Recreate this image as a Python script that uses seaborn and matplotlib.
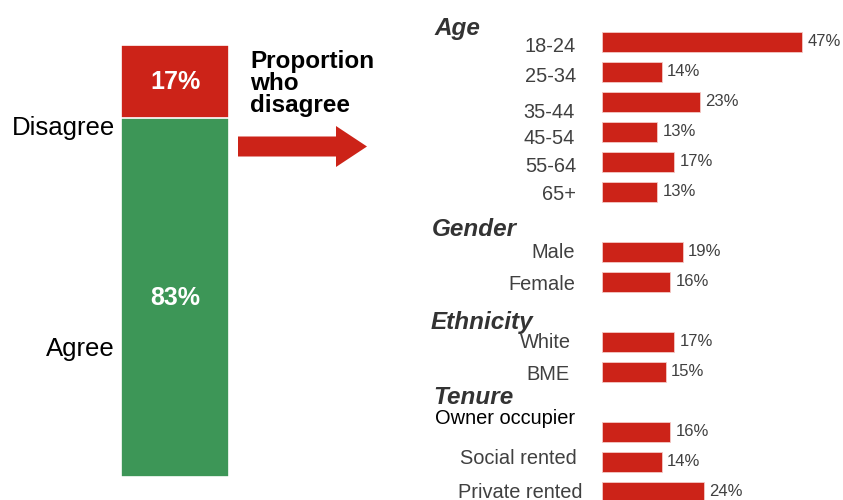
import numpy as np
import pandas as pd
import seaborn as sns
import matplotlib.pyplot as plt
from matplotlib.patches import FancyArrow

# overall split
overall_labels = ['Disagree', 'Agree']
overall_vals = [17, 83]

# proportion who disagree, by group
groups = ['Age', 'Gender', 'Ethnicity', 'Tenure']
age_labels = ['18-24', '25-34', '35-44', '45-54', '55-64', '65+']
age_vals = [47, 14, 23, 13, 17, 13]
gender_labels = ['Male', 'Female']
gender_vals = [19, 16]
ethnicity_labels = ['White', 'BME']
ethnicity_vals = [17, 15]
tenure_labels = ['Owner occupier', 'Social rented', 'Private rented']
tenure_vals = [16, 14, 24]

RED = '#CC2318'
GREEN = '#3D9657'
GREY = '#404040'

sns.set_theme(style='white')
plt.rcParams['font.family'] = ['Liberation Sans', 'DejaVu Sans']

# build rows: one empty row between groups (header sits there)
rows = []
pos = 0
for g, labs, vals in zip(groups,
                         [age_labels, gender_labels, ethnicity_labels, tenure_labels],
                         [age_vals, gender_vals, ethnicity_vals, tenure_vals]):
    for lab, v in zip(labs, vals):
        rows.append({'group': g, 'label': lab, 'value': v, 'row': pos})
        pos += 1
    pos += 1
df = pd.DataFrame(rows)

W, H = 843, 500
fig = plt.figure(figsize=(W / 100, H / 100), dpi=100)

# overlay in pixel coords for free text + arrow
ov = fig.add_axes([0, 0, 1, 1])
ov.set_xlim(0, W)
ov.set_ylim(H, 0)
ov.axis('off')

# ---- left stacked bar ----
ax_l = fig.add_axes([121 / W, (H - 477) / H, 108 / W, 432 / H])
sns.barplot(x=['all'], y=[sum(overall_vals)], color=RED, width=1, saturation=1,
            edgecolor='white', linewidth=1.2, ax=ax_l)
sns.barplot(x=['all'], y=[overall_vals[1]], color=GREEN, width=1, saturation=1,
            edgecolor='white', linewidth=1.2, ax=ax_l)
ax_l.set_xlim(-0.5, 0.5)
ax_l.set_ylim(0, 100)
ax_l.axis('off')
ax_l.text(0, overall_vals[1] + overall_vals[0] / 2, f'{overall_vals[0]}%', color='white',
          fontsize=18, fontweight='bold', ha='center', va='center')
ax_l.text(0, overall_vals[1] / 2, f'{overall_vals[1]}%', color='white',
          fontsize=18, fontweight='bold', ha='center', va='center')

ov.text(115, 128, overall_labels[0], ha='right', va='center', fontsize=18.5, color='black')
ov.text(115, 349, overall_labels[1], ha='right', va='center', fontsize=18.5, color='black')

# arrow + caption
ov.add_patch(FancyArrow(238, 146.5, 129, 0, width=20, head_width=41, head_length=31,
                        length_includes_head=True, color=RED, lw=0))
for txt, yb in zip(['Proportion', 'who', 'disagree'], [68, 90, 112]):
    ov.text(250, yb, txt, ha='left', va='baseline', fontsize=17.5, fontweight='bold',
            color='black')

# ---- right bars ----
PX_PER_PCT = 4.26
ax_r = fig.add_axes([602 / W, 0, (W - 602) / W, 1])
sns.barplot(data=df, x='value', y='row', orient='h', native_scale=True, width=0.68,
            color=RED, saturation=1, edgecolor='#f4c9c5', linewidth=0.6, ax=ax_r)
ax_r.set_xlim(0, (W - 602) / PX_PER_PCT)
ax_r.set_ylim((H - 42) / 30, -42 / 30)
ax_r.axis('off')
ax_r.bar_label(ax_r.containers[0], labels=[f'{v}%' for v in df['value']],
               padding=3.8, fontsize=12, color=GREY)

# category labels (x right edge in px, y nudge in px)
label_layout = {
    '18-24': (576, 3), '25-34': (576, 2), '35-44': (575, 8), '45-54': (575, 5),
    '55-64': (576, 3), '65+': (576, 0), 'Male': (575, -2), 'Female': (575, 0),
    'White': (571, -1), 'BME': (570, 0), 'Owner occupier': (575, -16),
    'Social rented': (577, -5), 'Private rented': (582, -2),
}
for _, r in df.iterrows():
    xr, dy = label_layout[r['label']]
    ov.text(xr, 42 + 30 * r['row'] + dy + 2, r['label'], ha='right', va='center',
            fontsize=14.4, color='black' if r['label'] == 'Owner occupier' else GREY)

header_layout = {'Age': (434, 29), 'Gender': (432, 229), 'Ethnicity': (431, 322),
                 'Tenure': (433, 397)}
for g in groups:
    x, y = header_layout[g]
    ov.text(x, y, g, ha='left', va='center', fontsize=17.5, fontweight='bold',
            fontstyle='italic', color='#333333')

fig.savefig('out.png', dpi=100)
plt.close(fig)
